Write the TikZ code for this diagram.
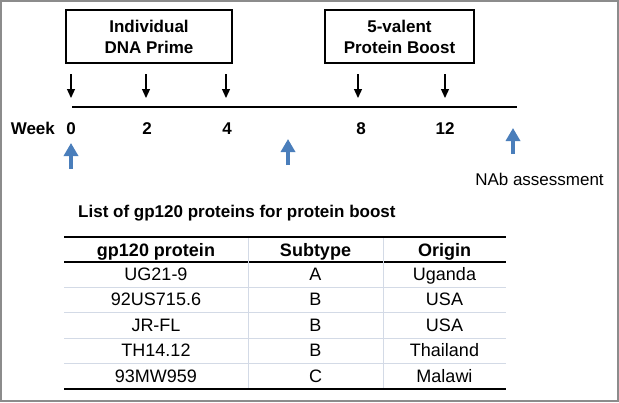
\documentclass[tikz,border=0pt]{standalone}
\usepackage{fontspec}
\setmainfont{Liberation Sans}
\usepackage{xcolor}
\usetikzlibrary{arrows.meta, positioning}

\definecolor{nabblue}{HTML}{4A7EBB}
\definecolor{rulegray}{HTML}{D3DAE6}
\definecolor{framegray}{HTML}{8C8C8C}
\newcommand{\lblfont}{\fontsize{17}{21}\selectfont}
\newcommand{\cellfont}{\fontsize{18}{22}\selectfont}

\begin{document}
\begin{tikzpicture}[x=1pt, y=-1pt,
    phase/.style={draw, line width=1.3pt, minimum width=#1, minimum height=53pt, align=center, inner sep=0pt, font=\lblfont\bfseries},
    wk/.style={inner sep=0pt, text height=12.2pt, text depth=0pt, font=\lblfont\bfseries},
    cell/.style={inner sep=0pt, text height=12.9pt, text depth=0pt, font=\cellfont},
    dose/.style={-{Triangle[length=9pt, width=8pt]}, line width=1.3pt},
    bleed/.style={-{Triangle[length=13pt, width=14pt]}, line width=4pt, nabblue}]
    \useasboundingbox (0,0) rectangle (619,402);
    \draw [framegray, line width=1.8pt] (0.9,0.9) rectangle (617.6,400.6);

    % regimen boxes
    \node (prime) [phase=166pt] at (149,36.5) {Individual\\DNA Prime};
    \node (boost) [phase=149pt] at (399.5,36.5) {5-valent\\Protein Boost};

    % timeline and immunizations
    \coordinate (tlstart) at (72,107);
    \coordinate (tlend) at (517,107);
    \draw [line width=1.3pt] (tlstart) -- (tlend);
    \foreach \x/\lx/\w in {71/71/0, 146/147/2, 226/227/4, 358/361/8, 445/445/12} {
        \node (w\w) [wk] at (\lx,128) {\w};
        \coordinate (imm\w) at (\x,74);
        \coordinate (immend\w) at (\x,98);
        \draw [dose] (imm\w) -- (immend\w);
    }
    \node (week) [wk, left=11pt of w0] {Week};

    % bleeds
    \foreach \i/\x/\y in {1/71/143, 2/288/139, 3/513/128} {
        \coordinate (nab\i) at (\x,\y+26);
        \coordinate (nabtip\i) at (\x,\y);
        \draw [bleed] (nab\i) -- (nabtip\i);
    }
    \node (nablbl) [inner sep=0pt, text height=12.2pt, text depth=0pt, font=\lblfont] at (539.5,179) {NAb assessment};

    % protein table
    \node (title) [wk, anchor=west] at (78,211) {List of gp120 proteins for protein boost};
    \draw [line width=2.5pt] (64,237) -- (506,237);
    \draw [line width=1.2pt] (64,262) -- (506,262);
    \foreach \y in {287,312,338,363}
        \draw [rulegray, line width=1pt] (64,\y) -- (506,\y);
    \foreach \x in {248,383}
        \draw [rulegray, line width=1pt] (\x,238) -- (\x,388);
    \draw [line width=2.5pt] (64,389) -- (506,389);
    \node (hprot) [cell, font=\cellfont\bfseries] at (156,250) {gp120 protein};
    \node (hsub) [cell, font=\cellfont\bfseries] at (315.5,250) {Subtype};
    \node (horig) [cell, font=\cellfont\bfseries] at (444.5,250) {Origin};
    \foreach \i/\p/\s/\o in {1/UG21-9/A/Uganda, 2/92US715.6/B/USA, 3/JR-FL/B/USA, 4/TH14.12/B/Thailand, 5/93MW959/C/Malawi} {
        \node (prot\i) [cell] at (156,274+25.5*\i-25.5) {\p};
        \node (sub\i) [cell] at (315.5,274+25.5*\i-25.5) {\s};
        \node (orig\i) [cell] at (444.5,274+25.5*\i-25.5) {\o};
    }
\end{tikzpicture}
\end{document}
